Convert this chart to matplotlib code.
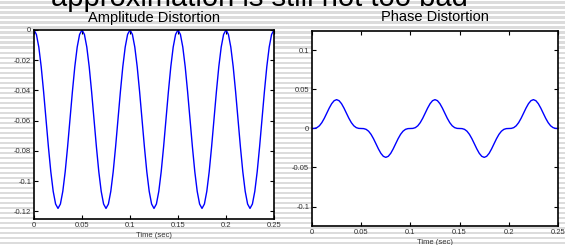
import numpy as np
import matplotlib
matplotlib.use("Agg")
import matplotlib.pyplot as plt

plt.rcParams['font.family'] = ['Liberation Sans', 'DejaVu Sans']

# ---- data, time step 0.0025 s from 0 to 0.25 s ----
time_sec = [round(0.0025 * k, 4) for k in range(101)]

amplitude_distortion = [
    0, -0.0029, -0.0113, -0.0243, -0.0408, -0.059, -0.0772, -0.0937, -0.1067, -0.1151,
    -0.118, -0.1151, -0.1067, -0.0937, -0.0772, -0.059, -0.0408, -0.0243, -0.0113, -0.0029,
    0, -0.0029, -0.0113, -0.0243, -0.0408, -0.059, -0.0772, -0.0937, -0.1067, -0.1151,
    -0.118, -0.1151, -0.1067, -0.0937, -0.0772, -0.059, -0.0408, -0.0243, -0.0113, -0.0029,
    0, -0.0029, -0.0113, -0.0243, -0.0408, -0.059, -0.0772, -0.0937, -0.1067, -0.1151,
    -0.118, -0.1151, -0.1067, -0.0937, -0.0772, -0.059, -0.0408, -0.0243, -0.0113, -0.0029,
    0, -0.0029, -0.0113, -0.0243, -0.0408, -0.059, -0.0772, -0.0937, -0.1067, -0.1151,
    -0.118, -0.1151, -0.1067, -0.0937, -0.0772, -0.059, -0.0408, -0.0243, -0.0113, -0.0029,
    0, -0.0029, -0.0113, -0.0243, -0.0408, -0.059, -0.0772, -0.0937, -0.1067, -0.1151,
    -0.118, -0.1151, -0.1067, -0.0937, -0.0772, -0.059, -0.0408, -0.0243, -0.0113, -0.0029,
    0,
]

phase_distortion = [
    0, 0.00014, 0.00109, 0.00346, 0.00751, 0.01308, 0.01959, 0.02617, 0.03183, 0.03565,
    0.037, 0.03565, 0.03183, 0.02617, 0.01959, 0.01308, 0.00751, 0.00346, 0.00109, 0.00014,
    0, -0.00014, -0.00109, -0.00346, -0.00751, -0.01308, -0.01959, -0.02617, -0.03183, -0.03565,
    -0.037, -0.03565, -0.03183, -0.02617, -0.01959, -0.01308, -0.00751, -0.00346, -0.00109, -0.00014,
    0, 0.00014, 0.00109, 0.00346, 0.00751, 0.01308, 0.01959, 0.02617, 0.03183, 0.03565,
    0.037, 0.03565, 0.03183, 0.02617, 0.01959, 0.01308, 0.00751, 0.00346, 0.00109, 0.00014,
    0, -0.00014, -0.00109, -0.00346, -0.00751, -0.01308, -0.01959, -0.02617, -0.03183, -0.03565,
    -0.037, -0.03565, -0.03183, -0.02617, -0.01959, -0.01308, -0.00751, -0.00346, -0.00109, -0.00014,
    0, 0.00014, 0.00109, 0.00346, 0.00751, 0.01308, 0.01959, 0.02617, 0.03183, 0.03565,
    0.037, 0.03565, 0.03183, 0.02617, 0.01959, 0.01308, 0.00751, 0.00346, 0.00109, 0.00014,
    0,
]

x_ticks = [0, 0.05, 0.1, 0.15, 0.2, 0.25]
x_tick_labels = ['0', '0.05', '0.1', '0.15', '0.2', '0.25']
amp_y_ticks = [-0.12, -0.1, -0.08, -0.06, -0.04, -0.02, 0]
amp_y_tick_labels = ['-0.12', '-0.1', '-0.08', '-0.06', '-0.04', '-0.02', '0']
phase_y_ticks = [-0.1, -0.05, 0, 0.05, 0.1]
phase_y_tick_labels = ['-0.1', '-0.05', '0', '0.05', '0.1']

slide_text = 'approximation is still not too bad'
left_title = 'Amplitude Distortion'
right_title = 'Phase Distortion'
x_label = 'Time (sec)'

# ---- figure ----
W, H = 565, 245
fig = plt.figure(figsize=(W / 100, H / 100), dpi=100)
fig.patch.set_facecolor('white')

# striped slide background
bg = fig.add_axes([0, 0, 1, 1])
bg.set_xlim(0, W)
bg.set_ylim(H, 0)
bg.axis('off')
for y in np.arange(0, H, 5):
    bg.axhspan(y + 1.5, y + 4, color='#dcdcdc', lw=0)

# slide heading, cut off at top
fig.text(259 / W, 1 - 6 / H, slide_text, ha='center', va='baseline',
         fontsize=21, color='black')


def style_axes(ax, yticks, ylabels):
    ax.set_facecolor('white')
    ax.set_xlim(0, 0.25)
    ax.set_xticks(x_ticks)
    ax.set_xticklabels(x_tick_labels)
    ax.set_yticks(yticks)
    ax.set_yticklabels(ylabels)
    ax.tick_params(direction='in', top=True, right=True, length=3, width=0.8,
                   labelsize=5.5, pad=2, colors='black', labelcolor='#333333')
    for s in ax.spines.values():
        s.set_linewidth(1.2)
        s.set_color('black')
    ax.set_xlabel(x_label, fontsize=5.5, labelpad=2, color='#333333')


ax1 = fig.add_axes([34 / W, 1 - 219 / H, 240 / W, 189 / H])
ax1.plot(time_sec, amplitude_distortion, color='#0000ff', lw=1.0)
ax1.set_ylim(-0.125, 0)
style_axes(ax1, amp_y_ticks, amp_y_tick_labels)
ax1.set_title(left_title, fontsize=10.5, pad=5.5)

ax2 = fig.add_axes([312 / W, 1 - 226 / H, 246 / W, 195 / H])
ax2.plot(time_sec, phase_distortion, color='#0000ff', lw=1.0)
ax2.set_ylim(-0.125, 0.125)
style_axes(ax2, phase_y_ticks, phase_y_tick_labels)
ax2.set_title(right_title, fontsize=10.5, pad=7)

fig.savefig('out.png', dpi=100)
